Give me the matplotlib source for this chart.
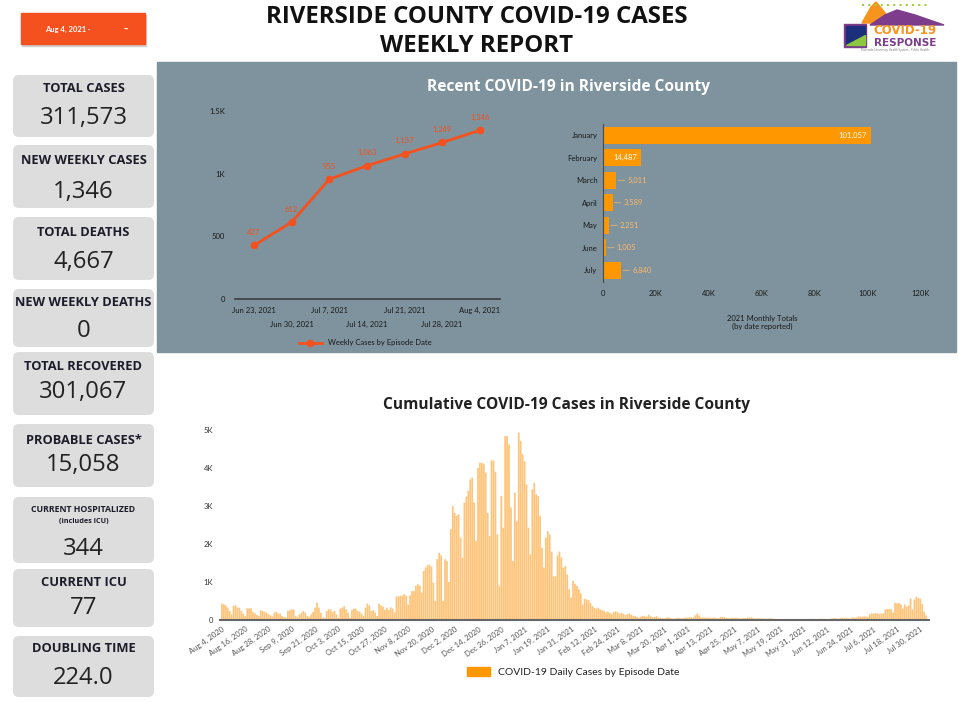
import numpy as np
import pandas as pd
import matplotlib
matplotlib.use("Agg")
from matplotlib import pyplot as plt
from matplotlib.patches import FancyBboxPatch, Rectangle, Polygon, Patch

plt.rcParams['font.family'] = ['Open Sans', 'DejaVu Sans']

# summary tiles down the left side
tile_titles = ["TOTAL CASES", "NEW WEEKLY CASES", "TOTAL DEATHS", "NEW WEEKLY DEATHS",
               "TOTAL RECOVERED", "PROBABLE CASES*", "CURRENT HOSPITALIZED", "CURRENT ICU",
               "DOUBLING TIME"]
tile_values = ["311,573", "1,346", "4,667", "0", "301,067", "15,058", "344", "77", "224.0"]

# weekly cases, last seven weeks
week_labels = ["Jun 23, 2021", "Jun 30, 2021", "Jul 7, 2021", "Jul 14, 2021",
               "Jul 21, 2021", "Jul 28, 2021", "Aug 4, 2021"]
weekly_cases = [427, 612, 955, 1063, 1157, 1249, 1346]

# 2021 monthly totals
months = ["January", "February", "March", "April", "May", "June", "July"]
monthly_totals = [101057, 14487, 5011, 3589, 2251, 1005, 6840]

# daily cases by episode date, starting Aug 4, 2020
start_date = "2020-08-04"
daily_cases = [
    430, 412, 386, 325, 237, 149, 368,
    386, 325, 325, 237, 167, 105, 307,
    307, 307, 211, 175, 132, 105, 254,
    237, 219, 193, 149, 123, 96, 193,
    219, 167, 167, 105, 79, 61, 237,
    254, 281, 281, 105, 79, 149, 193,
    237, 193, 105, 79, 149, 211, 325,
    456, 325, 193, 61, 61, 237, 281,
    281, 211, 237, 149, 61, 298, 325,
    360, 281, 193, 61, 272, 298, 298,
    237, 219, 167, 105, 325, 430, 386,
    237, 263, 193, 105, 430, 386, 351,
    272, 325, 263,
    330, 300, 200, 620, 620, 640, 640,
    680, 640, 410, 650, 760, 760, 900,
    940, 900, 720, 1290, 1380, 1440, 1460,
    1400, 980, 500, 1600, 1770, 1700, 500,
    1600, 1550, 1000, 2390, 3000, 2820, 2740,
    2780, 2170, 1640, 3090, 3250, 3400, 3700,
    3750, 3090, 2080, 4000, 4140, 4140, 4100,
    3880, 2820, 2210, 4200, 4200, 3900, 2250,
    900, 3260, 2430, 4840, 4840, 4620, 2960,
    1550, 3350, 2600, 4930, 4710, 4360, 4180,
    3570, 2430, 1730, 3440, 3610, 3310, 3260,
    2740, 1900, 1380, 2170, 2340, 2250, 1800,
    1150, 1150, 1700, 1800, 1650, 1380, 1420,
    1200, 810, 590, 1030, 950, 900, 810,
    700, 410, 560, 540, 520, 450, 370,
    320, 300, 320, 280, 260, 240, 200,
    220, 190, 150, 210, 230, 200, 170,
    190, 160, 130, 150, 170, 140, 110,
    100, 80, 60, 90, 110, 100, 90,
    140, 100, 70, 80, 100, 70, 60,
    50, 40, 60, 70, 60, 40, 35,
    50, 60, 55, 40, 50,
    70, 60, 75, 70, 65,
    120, 165, 120,
    60, 70, 65, 60, 70, 55, 60, 65, 50, 45,
    80, 75, 80, 60, 50, 45,
    60, 55, 60, 50, 45, 40, 55, 50,
    70, 65, 70, 50, 40,
    50, 45, 40, 45, 35, 30, 40, 45, 35, 30, 25,
    25, 20, 20, 25, 20, 15, 20, 25, 20, 20, 15, 20, 25, 20, 15,
    30, 25, 30, 30, 25, 20, 30, 35, 30, 25, 20, 25,
    40, 45, 50, 35, 30, 55, 60, 50, 60, 45, 40, 70, 65, 60,
    90, 90, 85, 95, 90, 80,
    150, 170, 175, 180, 175, 160, 170,
    175, 280, 290, 290, 280,
    200,
    450, 440, 450, 410,
    300,
    410, 350, 380,
    570,
    280,
    540, 610,
    580, 560, 420, 220, 120,
]

W, H = 959, 702
fig = plt.figure(figsize=(W / 100, H / 100), dpi=100)
fig.patch.set_facecolor("white")

# full-figure canvas in pixel units for the boxes and headings
bg = fig.add_axes([0, 0, 1, 1])
bg.set_xlim(0, W)
bg.set_ylim(H, 0)
bg.axis("off")


def px_rect(x0, y0, x1, y1):
    return [x0 / W, 1 - y1 / H, (x1 - x0) / W, (y1 - y0) / H]


small = dict(fontsize=5.5, family=["Lato", "DejaVu Sans"])

# date button
bg.add_patch(Rectangle((22, 15), 124, 31, color="#cfcfcf"))
bg.add_patch(Rectangle((21, 13), 124, 31, color="#f4511e"))
bg.text(68, 29.5, "Aug 4, 2021 \u00b7", color="white", ha="center", va="center",
        fontweight="bold", **small)
bg.text(126, 29.5, "\u2013", color="white", ha="center", va="center", fontsize=6,
        fontweight="bold")

# heading
bg.text(477, 17, "RIVERSIDE COUNTY COVID-19 CASES", ha="center", va="center",
        fontsize=17.3, fontweight="bold", color="#111111")
bg.text(477, 46, "WEEKLY REPORT", ha="center", va="center",
        fontsize=17.3, fontweight="bold", color="#111111")

# logo
bg.plot([862, 930], [5, 5], ls=(0, (1, 2)), color="#a6ce39", lw=1.5)
bg.add_patch(Polygon([(862, 23), (871, 7), (876, 2), (882, 9), (893, 23)], color="#f7941d"))
bg.add_patch(Polygon([(870, 25), (885, 15), (897, 10), (915, 15), (944, 25)], color="#7d3c8c"))
bg.add_patch(Rectangle((844, 24), 22, 23, color="#7d3c8c"))
bg.add_patch(Rectangle((846, 26), 19, 19, color="#1c2f7a"))
bg.add_patch(Polygon([(846, 45), (865, 45), (865, 35)], color="#8dc63f"))
bg.text(905, 31, "COVID-19", ha="center", va="center", fontsize=8.5,
        fontweight="heavy", color="#f7941d", family=["DejaVu Sans"])
bg.text(905, 43, "RESPONSE", ha="center", va="center", fontsize=7.5,
        fontweight="heavy", color="#7d3c8c", family=["DejaVu Sans"])
bg.text(895, 50.5, "Riverside University Health System - Public Health", ha="center",
        va="center", fontsize=2.2, color="#777777")

# left tiles: (top, bottom, title y, value y)
tiles = [(75, 137, 88, 118), (145, 208, 160, 192), (217, 280, 232, 262),
         (289, 347, 303, 331), (352, 415, 367, 392), (424, 487, 440, 465),
         (497, 563, 510, 549), (569, 627, 583, 608), (636, 697, 648, 678)]
for (top, bot, ty, vy), title, value in zip(tiles, tile_titles, tile_values):
    r = 6
    bg.add_patch(FancyBboxPatch((13 + r, top + r), 141 - 2 * r, bot - top - 2 * r,
                                boxstyle=f"round,pad={r}", facecolor="#dddddd",
                                edgecolor="none"))
    if title == "CURRENT HOSPITALIZED":
        bg.text(83.5, ty, title, ha="center", va="center", fontsize=6.3,
                fontweight="bold", color="#1c1c2a")
        bg.text(83.5, ty + 12, "(includes ICU)", ha="center", va="center", fontsize=5.2,
                fontweight="bold", color="#1c1c2a")
    else:
        bg.text(83.5, ty, title, ha="center", va="center", fontsize=9.3,
                fontweight="bold", color="#1c1c2a")
    bg.text(83.5, vy, value, ha="center", va="center", fontsize=17.2, color="#222222")

# grey panel for the recent charts
bg.add_patch(Rectangle((157, 62), 799, 290, color="#7e939d"))
bg.text(569, 87, "Recent COVID-19 in Riverside County", ha="center", va="center",
        fontsize=11.2, fontweight="bold", color="white")

# weekly line chart
ax1 = fig.add_axes(px_rect(235, 111, 500, 299))
ax1.patch.set_alpha(0)
xw = np.arange(len(weekly_cases))
ax1.plot(xw, weekly_cases, color="#f4511e", lw=2, marker="o", ms=4.5,
         label="Weekly Cases by Episode Date")
for i, v in enumerate(weekly_cases):
    ax1.annotate(f"{v:,}", (i, v), xytext=(0, 9.5), textcoords="offset points",
                 ha="center", va="center", color="#f4511e", **small)
ax1.set_xlim(-0.5, 6.535)
ax1.set_ylim(0, 1500)
ax1.set_yticks([0, 500, 1000, 1500])
ax1.set_yticklabels(["0", "500", "1K", "1.5K"], color="#1a1a1a", **small)
ax1.set_xticks(xw)
ax1.set_xticklabels(week_labels, color="#1a1a1a", **small)
for i, t in enumerate(ax1.xaxis.get_major_ticks()):
    t.set_pad(6 if i % 2 == 0 else 15.5)
ax1.tick_params(length=0)
ax1.tick_params(axis="y", pad=7)
for s in ["top", "right", "left"]:
    ax1.spines[s].set_visible(False)
ax1.spines["bottom"].set_color("#3c3c3c")
ax1.spines["bottom"].set_linewidth(1.2)
ax1.legend(loc="center", bbox_to_anchor=(365, 343), bbox_transform=bg.transData,
           frameon=False, prop={"size": 5.5, "family": ["Lato", "DejaVu Sans"]},
           handlelength=3, labelcolor="#1a1a1a")

# monthly totals bar chart
ax2 = fig.add_axes(px_rect(603, 124, 921, 281.5))
ax2.patch.set_alpha(0)
ym = np.arange(len(months))
ax2.barh(ym, monthly_totals, height=0.76, color="#ff9800")
for i, v in enumerate(monthly_totals):
    if v > 10000:
        ax2.annotate(f"{v:,}", (v, i), xytext=(-3, 0), textcoords="offset points",
                     ha="right", va="center", color="white", **small)
    else:
        ax2.annotate(f"{v:,}", (v, i), xytext=(8, 0), textcoords="offset points",
                     ha="left", va="center", color="#ffb867",
                     arrowprops=dict(arrowstyle="-", color="#ffb867", lw=0.5,
                                     shrinkA=0, shrinkB=1.5), **small)
ax2.set_xlim(0, 120000)
ax2.set_ylim(6.5, -0.5)
ax2.set_yticks(ym)
ax2.set_yticklabels(months, color="#1a1a1a", **small)
ax2.set_xticks(np.arange(0, 120001, 20000))
ax2.set_xticklabels(["0", "20K", "40K", "60K", "80K", "100K", "120K"], color="#1a1a1a", **small)
ax2.tick_params(length=0)
ax2.tick_params(axis="x", pad=6)
ax2.tick_params(axis="y", pad=4)
for s in ["top", "right", "bottom"]:
    ax2.spines[s].set_visible(False)
ax2.spines["left"].set_color("#4a4a4a")
ax2.set_xlabel("2021 Monthly Totals\n(by date reported)", color="#1a1a1a", labelpad=13, **small)

# daily cases bar chart
bg.text(567, 405, "Cumulative COVID-19 Cases in Riverside County", ha="center", va="center",
        fontsize=11.2, fontweight="bold", color="#222222")
ax3 = fig.add_axes(px_rect(220, 430, 929, 620))
dates = pd.date_range(start_date, periods=len(daily_cases), freq="D")
xd = np.arange(len(daily_cases))
ax3.bar(xd, daily_cases, width=0.9, color="#ffc47a", linewidth=0, snap=False)
ax3.set_xlim(-1, 364.5)
ax3.set_ylim(0, 5000)
ax3.set_yticks(np.arange(0, 5001, 1000))
ax3.set_yticklabels(["0", "1K", "2K", "3K", "4K", "5K"], color="#333333", **small)
tick_idx = np.arange(0, len(daily_cases), 12)
ax3.set_xticks(tick_idx)
ax3.set_xticklabels([f"{dates[i]:%b} {dates[i].day}, {dates[i].year}" for i in tick_idx],
                    rotation=35, ha="right", rotation_mode="anchor", color="#555555", **small)
ax3.tick_params(length=0)
ax3.tick_params(axis="x", pad=4)
ax3.tick_params(axis="y", pad=5)
for s in ["top", "right", "left"]:
    ax3.spines[s].set_visible(False)
ax3.spines["bottom"].set_color("#666666")
ax3.spines["bottom"].set_linewidth(1.5)
ax3.legend(handles=[Patch(color="#ff9800", label="COVID-19 Daily Cases by Episode Date")],
           loc="center", bbox_to_anchor=(573, 672), bbox_transform=bg.transData,
           frameon=False, prop={"size": 7.5, "family": ["Lato", "DejaVu Sans"]},
           handlelength=2.2, handleheight=1, labelcolor="#222222")

fig.savefig("out.png", dpi=100)
